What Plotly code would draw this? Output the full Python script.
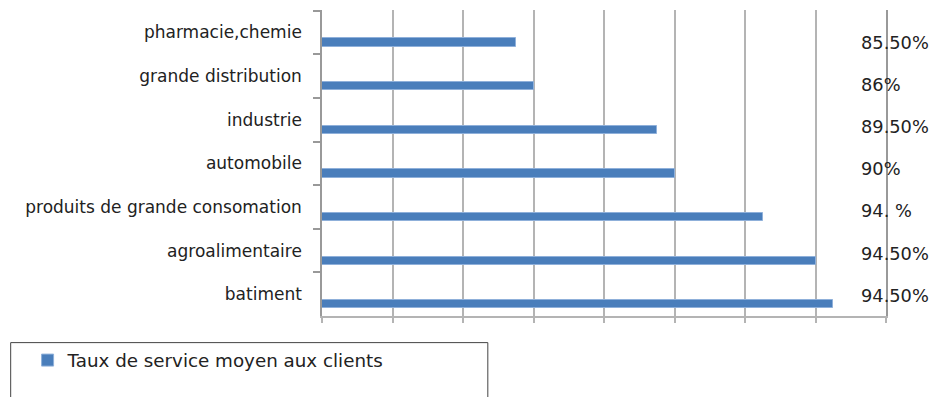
import plotly.graph_objects as go

categories = ["pharmacie,chemie", "grande distribution", "industrie", "automobile",
              "produits de grande consomation", "agroalimentaire", "batiment"]
values = [85.5, 86, 89.5, 90, 92.5, 94, 94.5]
value_labels = ["85.50%", "86%", "89.50%", "90%", "94. %", "94.50%", "94.50%"]
series_name = "Taux de service moyen aux clients"
x_ticks = [80, 82, 84, 86, 88, 90, 92, 94, 96]

FONT = "DejaVu Sans"
GRID = "#b4b4b4"

fig = go.Figure()
fig.add_trace(go.Bar(
    y=categories, x=values, orientation="h", name=series_name,
    base=0, width=0.19, offset=0.137,
    marker=dict(color="#4a7ebb", line=dict(color="#8fb0da", width=1)),
    showlegend=True,
))

annotations = []
for i, (c, t) in enumerate(zip(categories, value_labels)):
    annotations.append(dict(
        x=95.22, y=c, xref="x", yref="y", text=t, showarrow=False,
        xanchor="left", yanchor="middle", yshift=-(10 - 1.5 * i),
        font=dict(family=FONT, size=17.8, color="#222"),
    ))

fig.update_layout(
    width=932, height=397,
    margin=dict(l=322, r=46, t=10, b=81),
    paper_bgcolor="white", plot_bgcolor="white",
    font=dict(family=FONT, size=15, color="#222"),
    annotations=annotations,
    shapes=[dict(type="rect", xref="paper", yref="paper",
                 x0=-0.552, x1=0.294, y0=-0.087, y1=-0.30,
                 line=dict(color="#444", width=1), fillcolor="rgba(0,0,0,0)")],
    legend=dict(x=-0.522, y=-0.084, xanchor="left", yanchor="top",
                orientation="h", bgcolor="rgba(0,0,0,0)",
                font=dict(family=FONT, size=18.3, color="#222")),
    bargap=0,
)
fig.update_xaxes(range=[80, 96], tickvals=x_ticks, showticklabels=False,
                 showgrid=True, gridcolor=GRID, gridwidth=1.5,
                 showline=True, linecolor=GRID, linewidth=1.5,
                 ticks="outside", ticklen=5, tickcolor=GRID, tickwidth=1.5,
                 zeroline=False)
fig.update_yaxes(categoryorder="array", categoryarray=categories,
                 autorange="reversed", showgrid=False,
                 showline=True, linecolor="#999", linewidth=1.5, mirror=True,
                 ticks="outside", tickson="boundaries", ticklen=7,
                 tickcolor="#999", tickwidth=1.5, ticklabelstandoff=15,
                 tickfont=dict(family=FONT, size=17, color="#222"))

fig.write_html("out.html", config={"displayModeBar": False},
               post_script="document.body.style.margin='0';document.body.style.overflow='hidden';")
